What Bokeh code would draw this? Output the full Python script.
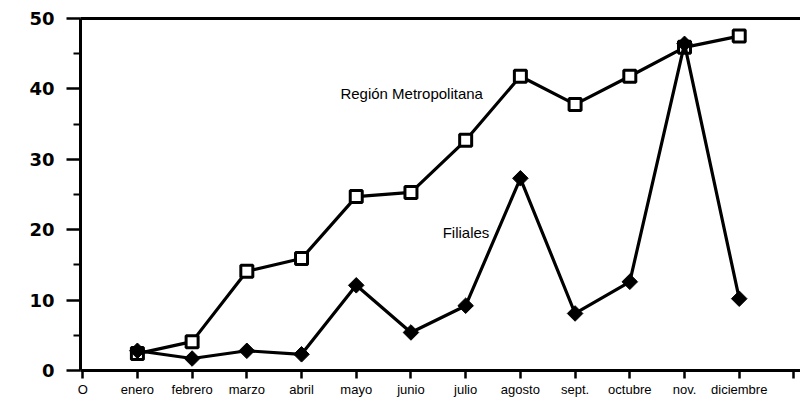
import math
from bokeh.plotting import figure
from bokeh.models import (Range1d, LinearAxis, FixedTicker, ColumnDataSource)
from bokeh.core.properties import value
from bokeh.embed import file_html
from bokeh.resources import INLINE

months = ["enero", "febrero", "marzo", "abril", "mayo", "junio", "julio",
          "agosto", "sept.", "octubre", "nov.", "diciembre"]
month_pos = [1, 2, 3, 4, 5, 6, 7, 8, 9, 10, 11, 12]
region_metropolitana = [2.4, 4.1, 14.1, 15.9, 24.7, 25.3, 32.7, 41.8, 37.8, 41.8, 45.9, 47.5]
filiales = [2.8, 1.7, 2.8, 2.3, 12.1, 5.4, 9.2, 27.3, 8.1, 12.6, 46.4, 10.2]
y_ticks = [0, 10, 20, 30, 40, 50]

p = figure(width=800, height=404, output_backend="svg", toolbar_location=None,
           x_range=Range1d(-0.04, 13.12), y_range=Range1d(0, 50),
           min_border_left=80, min_border_right=0, min_border_top=18, min_border_bottom=34)
p.outline_line_color = None
p.grid.visible = False
p.background_fill_color = "white"
p.border_fill_color = "white"

# y axis
ya = p.yaxis[0]
ya.ticker = FixedTicker(ticks=y_ticks, minor_ticks=[5, 15, 25, 35, 45])
ya.axis_line_width = 3
ya.major_tick_line_width = 2.5
ya.minor_tick_line_width = 2
ya.major_tick_out = 14
ya.major_tick_in = 0
ya.minor_tick_out = 7
ya.minor_tick_in = 0
ya.major_label_text_font = "DejaVu Sans"
ya.major_label_text_font_style = "bold"
ya.major_label_text_font_size = "18px"
ya.major_label_text_color = "black"
ya.major_label_standoff = 12

# x axis
xa = p.xaxis[0]
xa.ticker = FixedTicker(ticks=[0] + month_pos + [13], minor_ticks=[])
overrides = {0: "O", 13: " "}
for m, x in zip(months, month_pos):
    overrides[x] = m
xa.major_label_overrides = overrides
xa.axis_line_width = 3
xa.major_tick_line_width = 2.5
xa.major_tick_out = 8
xa.major_tick_in = 0
xa.major_label_text_font = "'Liberation Sans Narrow', 'Liberation Sans', sans-serif"
xa.major_label_text_font_size = "13px"
xa.major_label_text_color = "black"
xa.major_label_standoff = 3

# top frame line
top = LinearAxis(ticker=FixedTicker(ticks=[]), axis_line_width=3,
                 major_label_text_font_size="0px", major_tick_out=0, minor_tick_out=0)
p.add_layout(top, "above")

src = ColumnDataSource(dict(x=month_pos, rm=region_metropolitana, fil=filiales))

p.line("x", "rm", source=src, line_color="black", line_width=3.2)
p.scatter("x", "rm", source=src, marker="square", size=12, fill_color="white",
          line_color="black", line_width=3)

p.line("x", "fil", source=src, line_color="black", line_width=3.2)
p.scatter("x", "fil", source=src, marker="square", size=11, angle=math.pi / 4,
          fill_color="black", line_color="black", line_width=1)

p.text(x=[4.71], y=[39.3], text=["Región Metropolitana"], text_font=value("Liberation Sans"),
       text_font_size="15px", text_baseline="middle", text_align="left", text_color="black")
p.text(x=[6.58], y=[19.6], text=["Filiales"], text_font=value("Liberation Sans"),
       text_font_size="15px", text_baseline="middle", text_align="left", text_color="black")

open("out.html", "w").write(file_html(p, INLINE))
